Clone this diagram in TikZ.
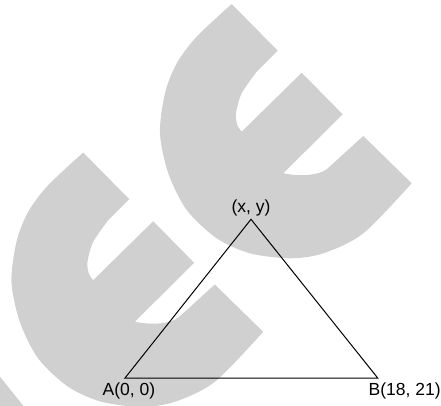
\documentclass[tikz,border=0pt]{standalone}
\usepackage{fontspec}
\setmainfont{Liberation Sans}
\definecolor{wmgray}{RGB}{208,208,208}

% one watermark letter, coordinates in px of the reference
\def\wmpath{(231.7,4) -- (277.7,50.7) -- (256.7,71.7)
  -- plot[smooth] coordinates {(256.7,71.7) (241.7,93.3) (236,113.3) (237.3,125) (241.7,131.7)}
  -- (301.7,72.7) -- (342.7,114.3) -- (283.3,173.3)
  .. controls (303,177) and (318,175) .. (326.7,169.3)
  -- (363.3,136) -- (411.7,183.3)
  -- plot[smooth] coordinates {(411.7,183.3) (363.3,233.3) (323.3,253.3) (290,258.3) (250,253.3)
     (216.7,238.3) (186.7,210) (168.3,173.3) (160,133.3) (165,93.3) (176.7,63.3) (196.7,36.7) (231.7,4)}
  -- cycle}

\begin{document}
\begin{tikzpicture}[x=1pt, y=-1pt, line width=1pt,
  lbl/.style={inner sep=0pt, font=\fontsize{17.5}{20}\selectfont}]
  \useasboundingbox (0,0) rectangle (441,406);

  % watermark
  \fill[wmgray] \wmpath;
  \fill[wmgray, shift={(-148.5,148.5)}] \wmpath;
  \fill[wmgray] (0,376.7) -- (23.5,406) -- (0,406) -- cycle;

  % triangle
  \coordinate (A) at (125,378);
  \coordinate (B) at (377.7,378);
  \coordinate (P) at (251,219.3);
  \draw (A) -- (B) -- (P) -- cycle;

  \node[lbl, anchor=north] (lA) at ([xshift=4pt, yshift=-4pt]A) {A(0, 0)};
  \node[lbl, anchor=north west] (lB) at ([xshift=-9.5pt, yshift=-4pt]B) {B(18, 21)};
  \node[lbl, anchor=south] (lP) at ([yshift=2.5pt]P) {(x, y)};
\end{tikzpicture}
\end{document}
